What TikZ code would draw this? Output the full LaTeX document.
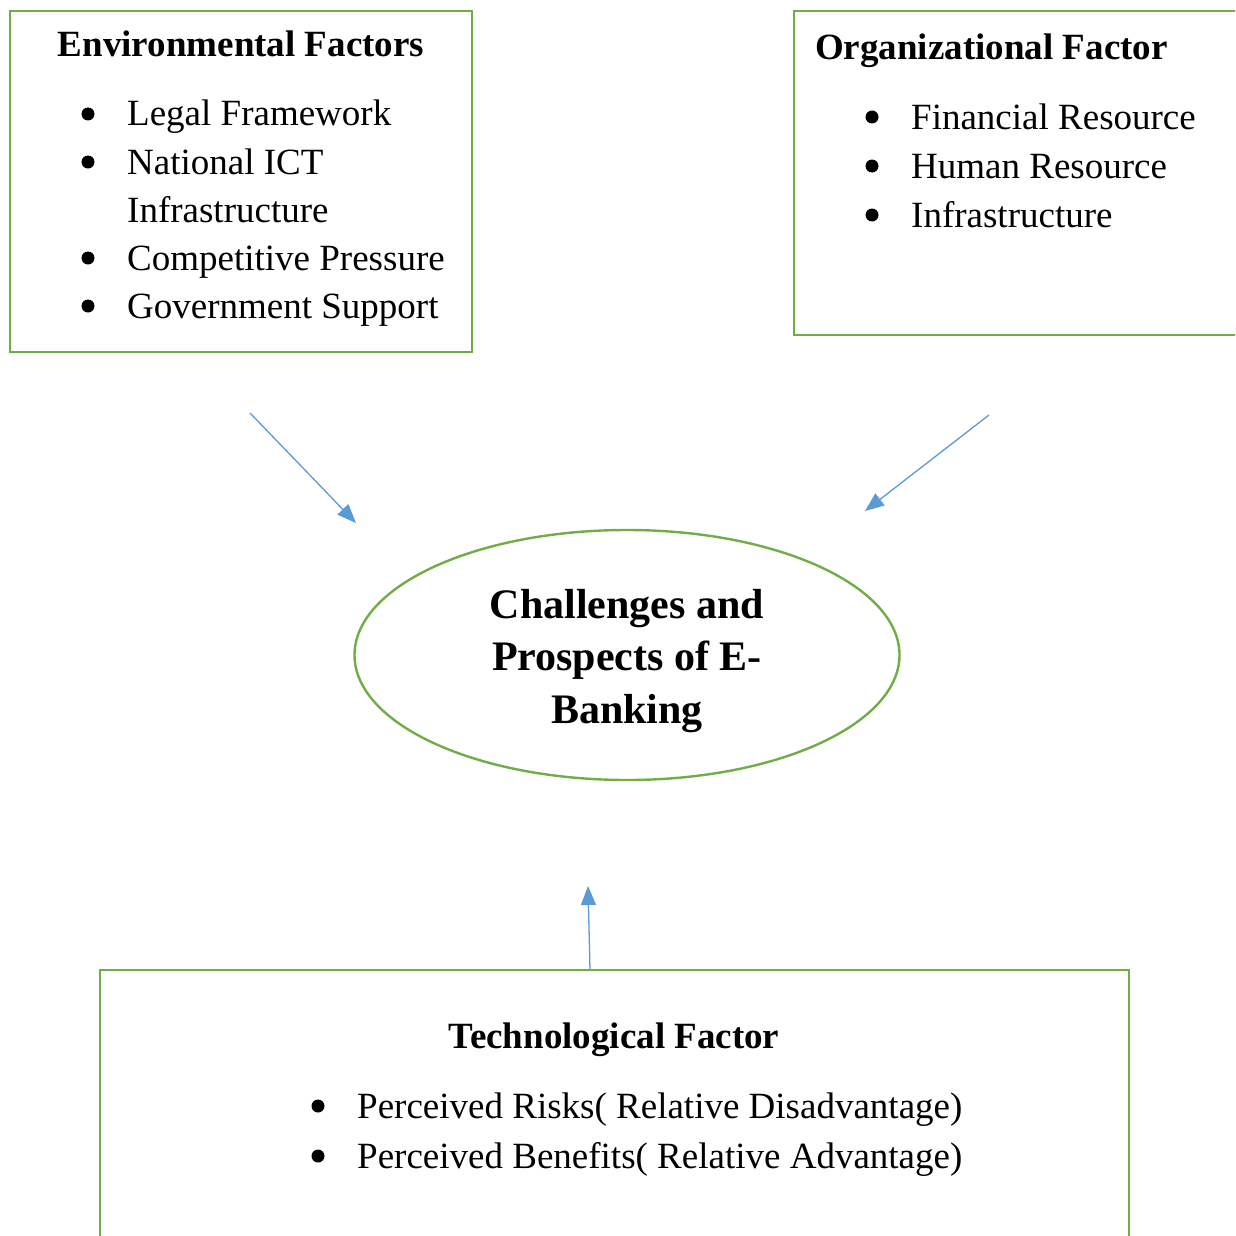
\documentclass[tikz,border=0pt]{standalone}
\usepackage{fontspec}
\setmainfont{Liberation Serif}
\usetikzlibrary{arrows.meta, shapes.geometric, calc}

\definecolor{boxgreen}{HTML}{70AD47}
\definecolor{arrblue}{HTML}{5B9BD5}

\begin{document}
\begin{tikzpicture}[
  x=1pt, y=-1pt,
  font=\fontsize{37}{48}\selectfont,
  factor/.style={draw=boxgreen, line width=2.4pt, rectangle, inner sep=0pt},
  head/.style={font=\fontsize{37}{48}\selectfont\bfseries, inner sep=0pt},
  itm/.style={anchor=base west, inner sep=0pt},
  hub/.style={draw=boxgreen, line width=2.4pt, ellipse,
              minimum width=545pt, minimum height=250pt, inner sep=0pt},
  hubtxt/.style={align=center, inner sep=0pt,
                 font=\fontsize{42}{52.5}\selectfont\bfseries},
  arr/.style={-{Triangle[length=19pt, width=15pt]}, draw=arrblue, fill=arrblue, line width=1.3pt},
]
\useasboundingbox (0,0) rectangle (1235,1236);
\clip (0,0) rectangle (1235,1236);

% ---- environmental factors (top left) ----
\node[factor, minimum width=462pt, minimum height=341pt] (env) at (241,181.5) {};
\node[head, anchor=base] (envh) at (241,57) {Environmental Factors};
\node[itm] (env1) at (127,126) {Legal Framework};
\node[itm] (env2) at (127,174) {National ICT};
\node[itm] (env3) at (127,222) {Infrastructure};
\node[itm] (env4) at (127,270) {Competitive Pressure};
\node[itm] (env5) at (127,318) {Government Support};

% ---- organizational factor (top right, runs off the page) ----
\node[factor, minimum width=468pt, minimum height=324pt] (org) at (1028,173) {};
\node[head, anchor=base west] (orgh) at (815,60) {Organizational Factor};
\node[itm] (org1) at (911,129) {Financial Resource};
\node[itm] (org2) at (911,178) {Human Resource};
\node[itm] (org3) at (911,227) {Infrastructure};

% ---- central ellipse ----
\node[hub] (eb) at (627,655) {};
\node[hubtxt] (ebtxt) at (627,661) {Challenges and\\Prospects of E-\\Banking};

% ---- technological factor (bottom, runs off the page) ----
\node[factor, minimum width=1029pt, minimum height=290pt] (tech) at (614.5,1115) {};
\node[head, anchor=base] (techh) at (614,1048) {Technological Factor};
\node[itm] (tech1) at (357,1118) {Perceived Risks( Relative Disadvantage)};
\node[itm] (tech2) at (357,1168) {Perceived Benefits( Relative Advantage)};

% bullets left of each list entry
\foreach \n in {env1,env2,env4,env5,org1,org2,org3,tech1,tech2}
  \fill ($(\n.base west)+(-39,-12)$) circle (6.5pt);

% ---- arrows into the ellipse ----
\coordinate (envout) at (250,413);
\coordinate (envin)  at (356,523);
\coordinate (orgout) at (989,415);
\coordinate (orgin)  at (865,511);
\coordinate (techout) at (590,970);
\coordinate (techin)  at (588,886);
\draw[arr] (envout) -- (envin);
\draw[arr] (orgout) -- (orgin);
\draw[arr] (techout) -- (techin);

\end{tikzpicture}
\end{document}
